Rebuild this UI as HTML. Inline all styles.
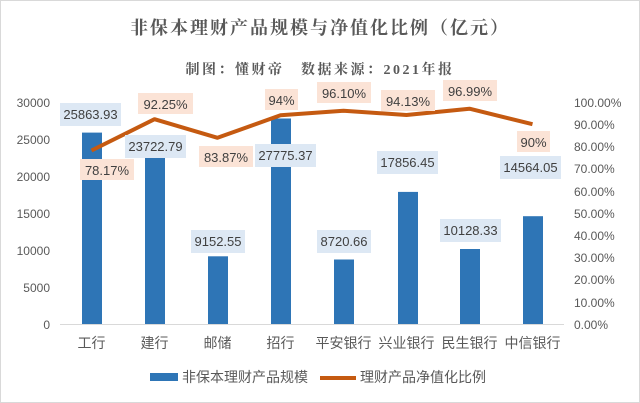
<!DOCTYPE html><html><head><meta charset="utf-8"><style>
body{margin:0;background:#fff}
svg{display:block}
text{font-family:"Liberation Sans","Noto Sans CJK SC",sans-serif}
</style></head><body>
<svg width="640" height="403" xmlns="http://www.w3.org/2000/svg">
<rect x="0.5" y="0.5" width="639" height="402" fill="#fff" stroke="#d9d9d9"/>
<text x="320" y="34" text-anchor="middle" font-size="18" font-weight="bold" fill="#595959" style="font-family:'Noto Serif CJK SC',serif;letter-spacing:2px">非保本理财产品规模与净值化比例（亿元）</text>
<text x="320" y="74" text-anchor="middle" font-size="14" font-weight="bold" fill="#595959" style="font-family:'Liberation Serif','Noto Serif CJK SC',serif;letter-spacing:2.5px">制图：懂财帝　数据来源：2021年报</text>
<g font-size="12" fill="#595959" text-anchor="end">
<text x="50" y="107">30000</text><text x="50" y="144">25000</text><text x="50" y="181">20000</text><text x="50" y="218">15000</text><text x="50" y="255">10000</text><text x="50" y="292">5000</text><text x="50" y="329">0</text>
</g>
<g font-size="12" fill="#595959">
<text x="574" y="107">100.00%</text><text x="574" y="129">90.00%</text><text x="574" y="151">80.00%</text><text x="574" y="173">70.00%</text><text x="574" y="196">60.00%</text><text x="574" y="218">50.00%</text><text x="574" y="240">40.00%</text><text x="574" y="262">30.00%</text><text x="574" y="284">20.00%</text><text x="574" y="307">10.00%</text><text x="574" y="329">0.00%</text>
</g>
<line x1="60" y1="324.5" x2="564" y2="324.5" stroke="#d9d9d9"/>
<g fill="#2e75b6">
<rect x="82" y="132.6" width="20" height="191.4"/>
<rect x="145" y="148.5" width="20" height="175.5"/>
<rect x="208" y="256.3" width="20" height="67.7"/>
<rect x="271" y="118.5" width="20" height="205.5"/>
<rect x="334" y="259.5" width="20" height="64.5"/>
<rect x="398" y="191.9" width="20" height="132.1"/>
<rect x="460" y="249" width="20" height="75"/>
<rect x="523" y="216.2" width="20" height="107.8"/>
</g>
<polyline fill="none" stroke="#c55a11" stroke-width="4" stroke-linejoin="round" points="91.5,150.5 154.5,119.2 217.5,137.8 280.5,115.3 343.5,110.7 406.5,115 469.5,108.7 532.5,124.2"/>
<g font-size="13" fill="#404040" text-anchor="middle">
<rect x="60" y="103" width="61" height="23" fill="#dde8f4"/><text x="90.5" y="119">25863.93</text>
<rect x="125" y="135" width="61" height="23" fill="#dde8f4"/><text x="155.5" y="151">23722.79</text>
<rect x="191" y="230" width="54" height="23" fill="#dde8f4"/><text x="218" y="246">9152.55</text>
<rect x="255" y="144" width="61" height="23" fill="#dde8f4"/><text x="285.5" y="160">27775.37</text>
<rect x="317" y="230" width="54" height="23" fill="#dde8f4"/><text x="344" y="246">8720.66</text>
<rect x="377" y="151" width="61" height="23" fill="#dde8f4"/><text x="407.5" y="167">17856.45</text>
<rect x="440" y="219" width="61" height="23" fill="#dde8f4"/><text x="470.5" y="235">10128.33</text>
<rect x="500" y="156" width="61" height="23" fill="#dde8f4"/><text x="530.5" y="172">14564.05</text>
<rect x="80" y="159" width="54" height="21" fill="#fbe3d6"/><text x="107" y="175">78.17%</text>
<rect x="138" y="93" width="55" height="21" fill="#fbe3d6"/><text x="165.5" y="109">92.25%</text>
<rect x="199" y="146" width="54" height="21" fill="#fbe3d6"/><text x="226" y="162">83.87%</text>
<rect x="265" y="89" width="33" height="21" fill="#fbe3d6"/><text x="281.5" y="105">94%</text>
<rect x="317" y="82" width="54" height="21" fill="#fbe3d6"/><text x="344" y="98">96.10%</text>
<rect x="381" y="90" width="54" height="21" fill="#fbe3d6"/><text x="408" y="106">94.13%</text>
<rect x="443" y="80" width="54" height="21" fill="#fbe3d6"/><text x="470" y="96">96.99%</text>
<rect x="517" y="131" width="33" height="21" fill="#fbe3d6"/><text x="533.5" y="147">90%</text>
</g>
<g font-size="14" fill="#595959" text-anchor="middle">
<text x="91.5" y="348">工行</text><text x="154.5" y="348">建行</text><text x="217.5" y="348">邮储</text><text x="280.5" y="348">招行</text><text x="343.5" y="348">平安银行</text><text x="406.5" y="348">兴业银行</text><text x="469.5" y="348">民生银行</text><text x="532.5" y="348">中信银行</text>
</g>
<rect x="150" y="373" width="28" height="8" fill="#2e75b6"/>
<text x="182" y="382" font-size="14" fill="#595959">非保本理财产品规模</text>
<line x1="320" y1="378" x2="356" y2="378" stroke="#c55a11" stroke-width="4"/>
<text x="360" y="382" font-size="14" fill="#595959">理财产品净值化比例</text>
</svg>
</body></html>
